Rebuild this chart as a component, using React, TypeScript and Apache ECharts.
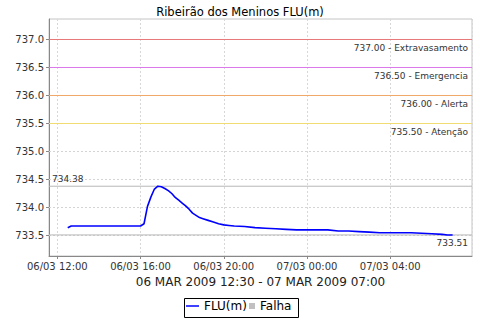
import React, { useEffect, useRef } from "react";
import * as echarts from "echarts";

const titleText = "Ribeirão dos Meninos FLU(m)";
const axisName = "06 MAR 2009 12:30 - 07 MAR 2009 07:00";
const seriesName = "FLU(m)";
const failName = "Falha";

const times = [
  "06/03 12:30", "06/03 12:40", "06/03 13:00", "06/03 13:30", "06/03 14:00", "06/03 14:30",
  "06/03 15:00", "06/03 15:30", "06/03 16:00", "06/03 16:10", "06/03 16:20", "06/03 16:30",
  "06/03 16:40", "06/03 16:50", "06/03 17:00", "06/03 17:10", "06/03 17:20", "06/03 17:30",
  "06/03 17:40", "06/03 17:50", "06/03 18:00", "06/03 18:10", "06/03 18:20", "06/03 18:30",
  "06/03 18:40", "06/03 18:50", "06/03 19:00", "06/03 19:15", "06/03 19:30", "06/03 19:45",
  "06/03 20:00", "06/03 20:15", "06/03 20:30", "06/03 21:00", "06/03 21:30", "06/03 22:00",
  "06/03 22:30", "06/03 23:00", "06/03 23:30", "07/03 00:00", "07/03 00:30", "07/03 01:00",
  "07/03 01:30", "07/03 02:00", "07/03 02:30", "07/03 03:00", "07/03 03:30", "07/03 04:00",
  "07/03 04:30", "07/03 05:00", "07/03 05:30", "07/03 06:00", "07/03 06:30", "07/03 06:45",
  "07/03 07:00",
];
const levels = [
  733.64, 733.67, 733.67, 733.67, 733.67, 733.67,
  733.67, 733.67, 733.67, 733.71, 734.02, 734.19,
  734.33, 734.38, 734.37, 734.34, 734.30, 734.25,
  734.18, 734.13, 734.08, 734.03, 733.97, 733.90,
  733.86, 733.82, 733.80, 733.77, 733.74, 733.71,
  733.69, 733.68, 733.67, 733.66, 733.64, 733.63,
  733.62, 733.61, 733.60, 733.60, 733.60, 733.60,
  733.58, 733.58, 733.57, 733.56, 733.55, 733.55,
  733.55, 733.55, 733.54, 733.53, 733.52, 733.51,
  733.51,
];

const thresholdValues = [737.0, 736.5, 736.0, 735.5];
const thresholdNames = ["Extravasamento", "Emergencia", "Alerta", "Atenção"];
const thresholdColors = ["#e87878", "#dc78ea", "#f0a868", "#f0dc70"];
const gridValues = [735.0, 734.5, 734.0, 733.5];
const maxValue = 734.38;
const minValue = 733.51;

const xMin = 11.6;
const xMax = 31.93;
const yMin = 733.134;
const yMax = 737.366;

function toHours(t: string): number {
  const [d, hm] = t.split(" ");
  const day = parseInt(d.slice(0, 2), 10);
  const [h, m] = hm.split(":").map((s) => parseInt(s, 10));
  return (day - 6) * 24 + h + m / 60;
}

function fmtHours(v: number): string {
  const h = Math.round(v);
  const day = 6 + Math.floor(h / 24);
  const hh = h % 24;
  return `${String(day).padStart(2, "0")}/03 ${String(hh).padStart(2, "0")}:00`;
}

const FONT = "DejaVu Sans";

function refLine(id: string, value: number, color: string, text: string | null, position: string, distance: number[], dashed = false, z = 2) {
  const s: any = {
    id,
    name: id,
    type: "line",
    data: [[xMin, value], [xMax, value]],
    symbol: "none",
    showSymbol: false,
    silent: true,
    z,
    color,
    lineStyle: { color, width: 1, type: dashed ? [2, 2] : "solid" },
  };
  if (text) {
    s.markLine = {
      silent: true,
      symbol: ["none", "none"],
      lineStyle: { color: "rgba(0,0,0,0)", width: 1 },
      label: { show: true, position, formatter: text, distance, fontFamily: FONT, fontSize: 9, color: "#333" },
      data: [{ yAxis: value }],
    };
  }
  return s;
}

export default function App() {
  const ref = useRef<HTMLDivElement>(null);
  useEffect(() => {
    if (!ref.current) return;
    const chart = echarts.init(ref.current, undefined, { renderer: "svg" });
    const data = times.map((t, i) => [toHours(t), levels[i]]);
    const refs: any[] = gridValues.map((v, i) => refLine(`g${i}`, v, "#d4d4d4", null, "end", [0, 0], true, 1));
    thresholdValues.forEach((v, i) =>
      refs.push(refLine(`th${i}`, v, thresholdColors[i], `${v.toFixed(2)} - ${thresholdNames[i]}`, "insideEndBottom", [4, 4]))
    );
    refs.push(refLine("max", maxValue, "#b8b8b8", maxValue.toFixed(2), "insideStartTop", [3, 3]));
    refs.push(refLine("min", minValue, "#b8b8b8", minValue.toFixed(2), "insideEndBottom", [4, 4]));
    chart.setOption({
      animation: false,
      backgroundColor: "#ffffff",
      textStyle: { fontFamily: FONT },
      title: {
        text: titleText,
        left: "center",
        top: 1,
        textStyle: { fontFamily: FONT, fontSize: 11.5, fontWeight: "normal", color: "#000" },
      },
      grid: {
        left: 49,
        top: 19,
        right: 8,
        bottom: 64,
        show: true,
        borderColor: "#c4c4c4",
        borderWidth: 1,
        backgroundColor: "#ffffff",
      },
      legend: [
        {
          data: [{ name: seriesName, icon: "path://M0,0 H26 V3 H0 Z" }],
          left: 186,
          top: 300,
          padding: 0,
          itemWidth: 13,
          itemHeight: 8,
          textStyle: { fontFamily: FONT, fontSize: 12, color: "#000" },
          selectedMode: false,
        },
        {
          data: [{ name: failName, icon: "rect" }],
          left: 249,
          top: 300,
          padding: 0,
          itemWidth: 6,
          itemHeight: 6,
          textStyle: { fontFamily: FONT, fontSize: 12, color: "#000" },
          selectedMode: false,
        },
      ],
      graphic: [
        {
          type: "rect",
          shape: { x: 184.5, y: 298.5, width: 114, height: 19 },
          style: { fill: "none", stroke: "#000", lineWidth: 1 },
          silent: true,
        },
      ],
      xAxis: {
        type: "value",
        min: xMin,
        max: xMax,
        splitNumber: 5,
        minInterval: 4,
        maxInterval: 4,
        name: axisName,
        nameLocation: "middle",
        nameGap: 18,
        nameTextStyle: { fontFamily: FONT, fontSize: 12, color: "#222" },
        axisLine: { show: true, lineStyle: { color: "#888" } },
        axisTick: { show: true, length: 3, lineStyle: { color: "#888" } },
        axisLabel: {
          formatter: (v: number) => fmtHours(v),
          fontFamily: FONT,
          fontSize: 10,
          color: "#333",
          margin: 5,
          showMinLabel: false,
          showMaxLabel: false,
        },
        splitLine: { show: true, lineStyle: { color: "#d8d8d8", type: [2, 2] } },
      },
      yAxis: {
        type: "value",
        min: yMin,
        max: yMax,
        splitNumber: 8,
        minInterval: 0.5,
        maxInterval: 0.5,
        axisLine: { show: true, lineStyle: { color: "#888" } },
        axisTick: { show: true, length: 3, lineStyle: { color: "#888" } },
        axisLabel: {
          formatter: (v: number) => v.toFixed(1),
          fontFamily: FONT,
          fontSize: 10,
          color: "#333",
          margin: 5,
          showMinLabel: false,
          showMaxLabel: false,
        },
        splitLine: { show: false },
      },
      series: [
        ...refs,
        {
          name: seriesName,
          type: "line",
          data,
          symbol: "none",
          showSymbol: false,
          color: "#0000ff",
          lineStyle: { color: "#0000ff", width: 1.6 },
          z: 3,
        },
        {
          name: failName,
          type: "line",
          data: [],
          color: "#c0c0c0",
          itemStyle: { color: "#c0c0c0" },
        },
      ],
    });
    return () => chart.dispose();
  }, []);
  return <div ref={ref} style={{ width: 480, height: 320, position: "absolute", left: 0, top: 0 }} />;
}
